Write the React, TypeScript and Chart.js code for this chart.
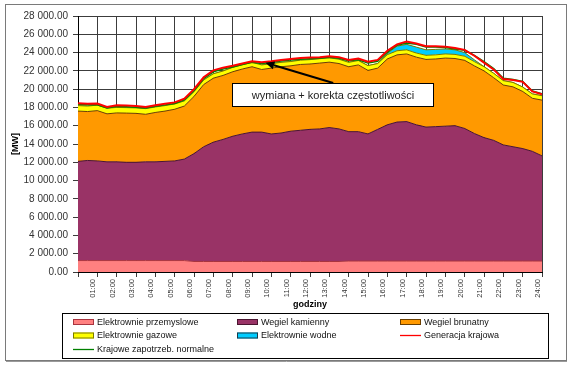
import React, { useEffect, useRef } from 'react';
import { Chart, registerables } from 'chart.js';

Chart.register(...registerables);

const FONT = '"Liberation Sans", Arial, sans-serif';

// Hours of the day (x values)
const HOURS = [0, 0.5, 1, 1.5, 2, 2.5, 3, 3.5, 4, 4.5, 5, 5.5, 6, 6.5, 7, 7.5, 8, 8.5, 9, 9.5, 10, 10.5, 11, 11.5, 12, 12.5, 13, 13.5, 14, 14.5, 15, 15.5, 16, 16.5, 17, 17.5, 18, 18.5, 19, 19.5, 20, 20.5, 21, 21.5, 22, 22.5, 23, 23.5, 24];

const HOUR_LABELS = ['', '01:00', '02:00', '03:00', '04:00', '05:00', '06:00', '07:00', '08:00', '09:00', '10:00', '11:00', '12:00', '13:00', '14:00', '15:00', '16:00', '17:00', '18:00', '19:00', '20:00', '21:00', '22:00', '23:00', '24:00'];

const PRZEMYSLOWE = [1250, 1250, 1250, 1250, 1250, 1250, 1250, 1250, 1250, 1250, 1250, 1250,
  1150, 1150, 1150, 1150, 1150, 1150, 1150, 1150, 1150, 1150, 1150, 1150, 1150, 1150, 1150, 1150,
  1200, 1200, 1200, 1200, 1200, 1200, 1200, 1200, 1200, 1200, 1200, 1200, 1200, 1200, 1200, 1200, 1200, 1200, 1200, 1200, 1200];

const KAMIENNY = [10850, 10950, 10900, 10800, 10800, 10750, 10750, 10800, 10800, 10850, 10900, 11100,
  11800, 12550, 13050, 13350, 13700, 13950, 14150, 14150, 13950, 14050, 14250, 14350, 14450, 14500, 14650, 14500,
  14150, 14150, 13900, 14400, 14900, 15200, 15250, 14900, 14650, 14700, 14750, 14800, 14500, 13950, 13500, 13200, 12700, 12500, 12300, 12000, 11500];

const BRUNATNY = [5500, 5350, 5500, 5250, 5350, 5380, 5350, 5200, 5400, 5500, 5650, 5800,
  6250, 6800, 7000, 7000, 7050, 7100, 7150, 6850, 7200, 7250, 7150, 7200, 7150, 7200, 7150, 7150,
  7100, 7300, 6950, 6700, 7200, 7350, 7400, 7400, 7400, 7400, 7450, 7350, 7450, 7400, 7300, 6850, 6550, 6550, 6250, 5800, 6100];

const GAZOWE = [600, 600, 600, 620, 600, 600, 600, 620, 600, 600, 580, 560,
  520, 500, 480, 480, 480, 470, 480, 500, 480, 480, 470, 470, 480, 480, 480, 470,
  480, 480, 520, 500, 470, 450, 450, 450, 450, 450, 450, 450, 450, 460, 460, 480, 480, 480, 480, 480, 480];

const WODNE = [0, 0, 0, 0, 0, 0, 0, 0, 0, 0, 0, 0,
  0, 0, 0, 0, 0, 0, 0, 0, 0, 0, 0, 0, 0, 0, 0, 0,
  0, 0, 0, 0, 150, 500, 600, 650, 600, 600, 550, 500, 400, 200, 0, 0, 0, 0, 0, 0, 0];

const GENERACJA = [18450, 18400, 18420, 18050, 18250, 18200, 18150, 18050, 18250, 18400, 18550, 18950,
  20000, 21300, 22050, 22350, 22550, 22800, 23050, 22950, 23050, 23200, 23300, 23400, 23450, 23500, 23600, 23500,
  23200, 23350, 23000, 23200, 24200, 24900, 25200, 25000, 24700, 24700, 24650, 24500, 24300, 23650, 22900, 22150, 21100, 21000, 20800, 19750, 19450];

const ZAPOTRZEB = [18350, 18300, 18300, 17950, 18120, 18080, 18030, 17930, 18120, 18280, 18430, 18820,
  19850, 21150, 21900, 22200, 22420, 22680, 22930, 22800, 22920, 23080, 23180, 23280, 23330, 23380, 23480, 23370,
  23100, 23220, 22850, 23050, 24050, 24800, 25050, 24900, 24600, 24600, 24550, 24400, 24250, 23700, 23000, 22250, 21200, 21050, 20850, 19800, 19500];

const Y_MIN = 0;
const Y_MAX = 28000;
const Y_STEP = 2000;

const ANNOT_TEXT = 'wymiana + korekta częstotliwości';
// annotation anchored in data coordinates: [hour, MW]
const ANNOT_BOX = { h1: 7.98, h2: 18.34, v1: 20670, v2: 18160 };
const ANNOT_TAIL = { h: 13.2, v: 20670 };
const ANNOT_TIP = { h: 9.69, v: 22890 };

function fmtMW(v: number) {
  if (v === 0) return '0.00';
  const th = Math.floor(v / 1000);
  const rest = String(v % 1000).padStart(3, '0');
  return `${th} ${rest}.00`;
}

const mk = (arr: number[]) => HOURS.map((h, i) => ({ x: h, y: arr[i] }));

const decorPlugin = {
  id: 'decor',
  afterDraw(chart: any) {
    const ctx = chart.ctx as CanvasRenderingContext2D;
    const xs = chart.scales.x;
    const ys = chart.scales.y;
    ctx.save();

    // annotation box
    const bx1 = Math.round(xs.getPixelForValue(ANNOT_BOX.h1)) + 0.5;
    const bx2 = Math.round(xs.getPixelForValue(ANNOT_BOX.h2)) + 0.5;
    const by1 = Math.round(ys.getPixelForValue(ANNOT_BOX.v1)) + 0.5;
    const by2 = Math.round(ys.getPixelForValue(ANNOT_BOX.v2)) + 0.5;
    ctx.fillStyle = '#ffffff';
    ctx.fillRect(bx1, by1, bx2 - bx1, by2 - by1);
    ctx.strokeStyle = '#000000';
    ctx.lineWidth = 1;
    ctx.strokeRect(bx1, by1, bx2 - bx1, by2 - by1);
    ctx.fillStyle = '#222222';
    ctx.font = `11px ${FONT}`;
    ctx.textAlign = 'center';
    ctx.textBaseline = 'middle';
    ctx.fillText(ANNOT_TEXT, (bx1 + bx2) / 2, (by1 + by2) / 2 + 1);

    // arrow
    const tx = xs.getPixelForValue(ANNOT_TAIL.h);
    const ty = ys.getPixelForValue(ANNOT_TAIL.v);
    const px = xs.getPixelForValue(ANNOT_TIP.h);
    const py = ys.getPixelForValue(ANNOT_TIP.v);
    const ang = Math.atan2(py - ty, px - tx);
    const hl = 9, hw = 4;
    const bxp = px - hl * Math.cos(ang);
    const byp = py - hl * Math.sin(ang);
    ctx.strokeStyle = '#000';
    ctx.lineWidth = 2;
    ctx.beginPath();
    ctx.moveTo(tx, ty);
    ctx.lineTo(bxp, byp);
    ctx.stroke();
    ctx.fillStyle = '#000';
    ctx.beginPath();
    ctx.moveTo(px, py);
    ctx.lineTo(bxp + hw * Math.sin(ang), byp - hw * Math.cos(ang));
    ctx.lineTo(bxp - hw * Math.sin(ang), byp + hw * Math.cos(ang));
    ctx.closePath();
    ctx.fill();

    // legend box
    const lx = 62.5, ly = 313.5, lw = 486, lh = 45;
    ctx.lineWidth = 1;
    ctx.strokeStyle = '#000';
    ctx.strokeRect(lx, ly, lw, lh);
    const cols = [73, 237, 400];
    const rows = [322, 335.5, 349.5];
    ctx.font = `9px ${FONT}`;
    ctx.textAlign = 'left';
    ctx.textBaseline = 'middle';
    chart.data.datasets.forEach((ds: any, i: number) => {
      const cx = cols[i % 3];
      const cy = rows[Math.floor(i / 3)];
      if (ds.fill === false) {
        ctx.strokeStyle = ds.borderColor;
        ctx.lineWidth = 1.3;
        ctx.beginPath();
        ctx.moveTo(cx, cy);
        ctx.lineTo(cx + 21, cy);
        ctx.stroke();
      } else {
        ctx.fillStyle = ds.backgroundColor;
        ctx.fillRect(cx, cy - 3, 21, 6);
        ctx.strokeStyle = ds.legendBorder || ds.borderColor;
        ctx.lineWidth = 1;
        ctx.strokeRect(cx + 0.5, cy - 2.5, 20, 5);
      }
      ctx.fillStyle = '#111';
      ctx.fillText(ds.label, cx + 24, cy + 0.5);
    });

    // outer frame
    ctx.strokeStyle = '#7a7a7a';
    ctx.lineWidth = 1;
    ctx.strokeRect(5.5, 4.5, 561, 356);
    ctx.strokeStyle = '#9a9a9a';
    ctx.beginPath();
    ctx.moveTo(6, 361.5);
    ctx.lineTo(567, 361.5);
    ctx.stroke();
    ctx.restore();
  },
};

export default function App() {
  const ref = useRef<HTMLCanvasElement | null>(null);

  useEffect(() => {
    if (!ref.current) return;
    const area = (label: string, data: number[], bg: string, border: string, fill: any) => ({
      label,
      data: mk(data),
      backgroundColor: bg,
      borderColor: border,
      borderWidth: 1,
      fill,
      stack: 'gen',
      order: 1,
      pointRadius: 0,
      tension: 0,
    });
    const chart = new Chart(ref.current, {
      type: 'line',
      data: {
        datasets: [
          area('Elektrownie przemyslowe', PRZEMYSLOWE, '#FF8080', '#A8343F', 'origin'),
          area('Wegiel kamienny', KAMIENNY, '#993366', '#4A1530', '-1'),
          area('Wegiel brunatny', BRUNATNY, '#FF9900', '#6B3F00', '-1'),
          area('Elektrownie gazowe', GAZOWE, '#FFFF00', '#7A7A00', '-1'),
          { ...area('Elektrownie wodne', WODNE, '#00CCFF', '#7A7A00', '-1'), legendBorder: '#1a3a4a' },
          {
            label: 'Generacja krajowa',
            data: mk(GENERACJA),
            borderColor: '#FF0000',
            backgroundColor: '#FF0000',
            borderWidth: 2,
            fill: false,
            stack: 'gr',
            order: 0,
            pointRadius: 0,
            tension: 0,
          },
          {
            label: 'Krajowe zapotrzeb. normalne',
            data: mk(ZAPOTRZEB),
            borderColor: '#008000',
            backgroundColor: '#008000',
            borderWidth: 1.5,
            fill: false,
            stack: 'zap',
            order: 0,
            pointRadius: 0,
            tension: 0,
          },
        ] as any,
      },
      options: {
        responsive: false,
        animation: false,
        devicePixelRatio: 1,
        layout: { padding: { left: 6, top: 16, right: 28, bottom: 54 } },
        plugins: {
          legend: { display: false },
          tooltip: { enabled: false },
          title: { display: false },
        },
        scales: {
          x: {
            type: 'linear',
            min: 0,
            max: 24,
            grid: { color: '#3c3c3c', lineWidth: 1, tickLength: 5, drawTicks: true },
            border: { color: '#000', width: 1 },
            ticks: {
              stepSize: 1,
              autoSkip: false,
              minRotation: 90,
              maxRotation: 90,
              padding: 2,
              labelOffset: -4,
              color: '#333',
              font: { family: FONT, size: 7.5 },
              callback: (v: any) => HOUR_LABELS[Math.round(Number(v))] ?? '',
            },
            title: {
              display: true,
              text: 'godziny',
              color: '#000',
              font: { family: FONT, size: 9, weight: 'bold' },
              padding: { top: 0, bottom: 2 },
            },
            afterFit: (s: any) => { s.height = 40; },
          },
          y: {
            stacked: true,
            min: Y_MIN,
            max: Y_MAX,
            grid: { color: '#3c3c3c', lineWidth: 1, tickLength: 5, drawTicks: true },
            border: { color: '#000', width: 1 },
            ticks: {
              stepSize: Y_STEP,
              padding: 5,
              color: '#333',
              font: { family: FONT, size: 10 },
              callback: (v: any) => fmtMW(Number(v)),
            },
            title: {
              display: true,
              text: '[MW]',
              color: '#000',
              font: { family: FONT, size: 9, weight: 'bold' },
              padding: { top: 4, bottom: 0 },
            },
            afterFit: (s: any) => { s.width = 72; },
          },
        },
      } as any,
      plugins: [decorPlugin],
    });
    return () => chart.destroy();
  }, []);

  return (
    <div style={{ position: 'fixed', left: 0, top: 0, width: 570, height: 366, background: '#fff' }}>
      <canvas ref={ref} width={570} height={366} style={{ width: 570, height: 366, display: 'block' }} />
    </div>
  );
}
